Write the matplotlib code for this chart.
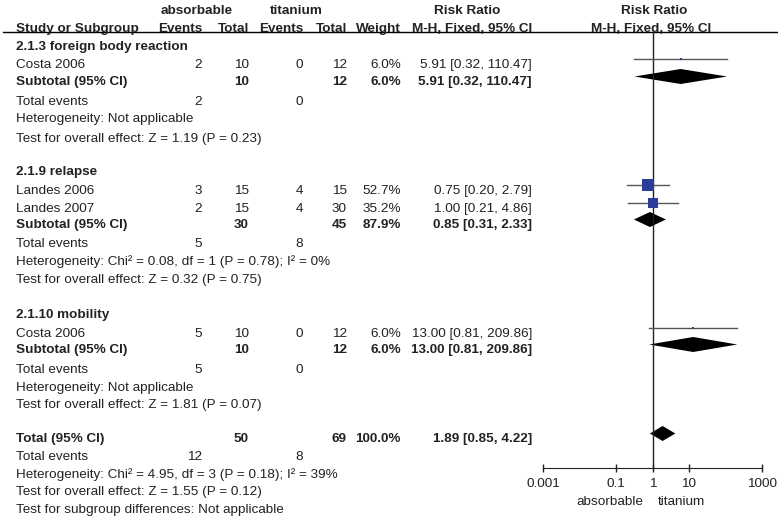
import numpy as np
import matplotlib.pyplot as plt
from matplotlib.patches import Polygon

plt.rcParams['font.family'] = ['Liberation Sans', 'DejaVu Sans']
plt.rcParams['font.size'] = 9.7

# Study level data
subgroups = ['2.1.3 foreign body reaction', '2.1.9 relapse', '2.1.10 mobility']
study_names = ['Costa 2006', 'Landes 2006', 'Landes 2007', 'Costa 2006']
abs_events = [2, 3, 2, 5]
abs_total = [10, 15, 15, 10]
tit_events = [0, 4, 4, 0]
tit_total = [12, 15, 30, 12]
weights = [6.0, 52.7, 35.2, 6.0]
rr = [5.91, 0.75, 1.00, 13.00]
ci_lo = [0.32, 0.20, 0.21, 0.81]
ci_hi = [110.47, 2.79, 4.86, 209.86]

# Subgroup summaries
sub_abs_total = [10, 30, 10]
sub_tit_total = [12, 45, 12]
sub_abs_events = [2, 5, 5]
sub_tit_events = [0, 8, 0]
sub_weight = [6.0, 87.9, 6.0]
sub_rr = [5.91, 0.85, 13.00]
sub_lo = [0.32, 0.31, 0.81]
sub_hi = [110.47, 2.33, 209.86]
sub_het = ['Heterogeneity: Not applicable',
           'Heterogeneity: Chi\u00b2 = 0.08, df = 1 (P = 0.78); I\u00b2 = 0%',
           'Heterogeneity: Not applicable']
sub_test = ['Test for overall effect: Z = 1.19 (P = 0.23)',
            'Test for overall effect: Z = 0.32 (P = 0.75)',
            'Test for overall effect: Z = 1.81 (P = 0.07)']

# Overall
tot_abs_total = 50
tot_tit_total = 69
tot_weight = 100.0
tot_rr = 1.89
tot_lo = 0.85
tot_hi = 4.22
tot_abs_events = 12
tot_tit_events = 8
tot_het = 'Heterogeneity: Chi\u00b2 = 4.95, df = 3 (P = 0.18); I\u00b2 = 39%'
tot_test = 'Test for overall effect: Z = 1.55 (P = 0.12)'
tot_sub = 'Test for subgroup differences: Not applicable'

ticks = [0.001, 0.1, 1, 10, 1000]
tick_labels = ['0.001', '0.1', '1', '10', '1000']

# layout (pixel rows)
group_rows = [
    dict(head=45, studies=[63], sub=80, ev=100, het=117, test=137),
    dict(head=170, studies=[189, 207], sub=223, ev=242, het=260, test=278),
    dict(head=313, studies=[332], sub=348, ev=368, het=386, test=403),
]
total_row, total_ev, total_het, total_test, total_sub = 437, 455, 473, 490, 508
col_ae, col_at, col_te, col_tt, col_w, col_rr = 202, 249, 303, 347, 401, 532
mk_off = -4
txt = '#222222'
blue = '#2b3c9b'

fig = plt.figure(figsize=(7.78, 5.18), dpi=100)
ax = fig.add_axes([0, 0, 1, 1])
ax.set_xlim(0, 778)
ax.set_ylim(518, 0)
ax.axis('off')

fx0, fx1, fy = 543, 762, 468
fa = fig.add_axes([fx0 / 778, (518 - fy) / 518, (fx1 - fx0) / 778, fy / 518])
fa.set_xscale('log')
fa.set_xlim(0.001, 1000)
fa.set_ylim(fy, 0)
fa.patch.set_alpha(0)
for s in ['top', 'left', 'right']:
    fa.spines[s].set_visible(False)
fa.spines['bottom'].set_color(txt)
fa.set_yticks([])
fa.set_xticks(ticks)
fa.set_xticklabels(tick_labels)
fa.xaxis.set_minor_locator(plt.NullLocator())
fa.tick_params(axis='x', direction='inout', length=6, width=1, pad=4.5,
               colors=txt, labelsize=9.7)


def t(x, y, s, ha='left', bold=False):
    ax.text(x, y + 4.7, s, ha=ha, va='baseline', color=txt,
            fontweight='bold' if bold else 'normal')


# headers
t(197, 9, 'absorbable', 'center', True)
t(296, 9, 'titanium', 'center', True)
t(467, 9, 'Risk Ratio', 'center', True)
t(654, 9, 'Risk Ratio', 'center', True)
t(16, 27, 'Study or Subgroup', bold=True)
t(col_ae, 27, 'Events', 'right', True)
t(col_at, 27, 'Total', 'right', True)
t(col_te, 27, 'Events', 'right', True)
t(col_tt, 27, 'Total', 'right', True)
t(col_w, 27, 'Weight', 'right', True)
t(532, 27, 'M-H, Fixed, 95% CI', 'right', True)
t(651, 27, 'M-H, Fixed, 95% CI', 'center', True)
ax.plot([3, 778], [32, 32], color='black', lw=1)

# null line
fa.plot([1, 1], [32, fy], color=txt, lw=1, clip_on=False)


def diamond(y, c, lo, hi, h=7.5):
    fa.add_patch(Polygon([(lo, y), (c, y - h), (hi, y), (c, y + h)],
                         closed=True, color='black', lw=0, clip_on=False))


k = 0
for g, rows in enumerate(group_rows):
    t(16, rows['head'], subgroups[g], bold=True)
    for y in rows['studies']:
        t(16, y, study_names[k])
        t(col_ae, y, str(abs_events[k]), 'right')
        t(col_at, y, str(abs_total[k]), 'right')
        t(col_te, y, str(tit_events[k]), 'right')
        t(col_tt, y, str(tit_total[k]), 'right')
        t(col_w, y, f'{weights[k]:.1f}%', 'right')
        t(col_rr, y, f'{rr[k]:.2f} [{ci_lo[k]:.2f}, {ci_hi[k]:.2f}]', 'right')
        my = y + mk_off
        fa.plot([ci_lo[k], ci_hi[k]], [my, my], color='#555555', lw=1, clip_on=False)
        side = 12 * (weights[k] / 52.7) ** 0.7
        fa.scatter([rr[k]], [my], marker='s', s=(side * 0.72) ** 2,
                   color=blue, lw=0, zorder=3, clip_on=False)
        k += 1
    y = rows['sub']
    t(16, y, 'Subtotal (95% CI)', bold=True)
    t(col_at, y, str(sub_abs_total[g]), 'right', True)
    t(col_tt, y, str(sub_tit_total[g]), 'right', True)
    t(col_w, y, f'{sub_weight[g]:.1f}%', 'right', True)
    t(col_rr, y, f'{sub_rr[g]:.2f} [{sub_lo[g]:.2f}, {sub_hi[g]:.2f}]', 'right', True)
    diamond(y + mk_off + 0.5, sub_rr[g], sub_lo[g], sub_hi[g])
    t(16, rows['ev'], 'Total events')
    t(col_ae, rows['ev'], str(sub_abs_events[g]), 'right')
    t(col_te, rows['ev'], str(sub_tit_events[g]), 'right')
    t(16, rows['het'], sub_het[g])
    t(16, rows['test'], sub_test[g])

t(16, total_row, 'Total (95% CI)', bold=True)
t(col_at, total_row, str(tot_abs_total), 'right', True)
t(col_tt, total_row, str(tot_tit_total), 'right', True)
t(col_w, total_row, f'{tot_weight:.1f}%', 'right', True)
t(col_rr, total_row, f'{tot_rr:.2f} [{tot_lo:.2f}, {tot_hi:.2f}]', 'right', True)
diamond(total_row + mk_off + 0.5, tot_rr, tot_lo, tot_hi)
t(16, total_ev, 'Total events')
t(col_ae, total_ev, str(tot_abs_events), 'right')
t(col_te, total_ev, str(tot_tit_events), 'right')
t(16, total_het, tot_het)
t(16, total_test, tot_test)
t(16, total_sub, tot_sub)

t(610, 500, 'absorbable', 'center')
t(681, 500, 'titanium', 'center')

fig.savefig('out.png', dpi=100)
